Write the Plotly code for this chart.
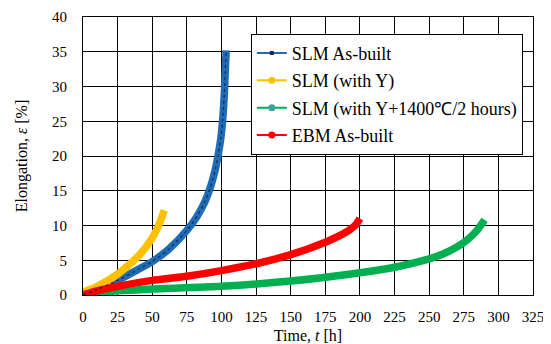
import plotly.graph_objects as go

# SLM As-built
t_slm = [0, 10, 25, 40, 50, 62, 75, 82, 88, 92, 95, 97.5, 99.5, 101, 102.2, 103.4]
e_slm = [0, 0.8, 2.1, 3.7, 4.8, 6.6, 9.3, 11.2, 13.4, 15.5, 17.6, 20.0, 22.5, 25.5, 29.5, 35.2]
# SLM (with Y)
t_y = [0, 10, 25, 40, 50, 55, 58.7]
e_y = [0.4, 1.2, 3.0, 5.6, 8.2, 10.2, 12.2]
# SLM (with Y+1400C/2 hours)
t_yh = [0, 10, 25, 50, 100, 150, 200, 225, 250, 260, 270, 278, 285, 290]
e_yh = [0, 0.4, 0.6, 0.85, 1.25, 2.0, 3.2, 4.0, 5.2, 5.9, 6.9, 8.0, 9.4, 10.8]
# EBM As-built
t_ebm = [0, 10, 25, 50, 75, 100, 125, 150, 175, 185, 192, 197, 200]
e_ebm = [0, 0.6, 1.25, 2.1, 2.7, 3.5, 4.5, 5.8, 7.6, 8.5, 9.3, 10.1, 11.0]

names = ["SLM As-built", "SLM (with Y)", "SLM (with Y+1400℃/2 hours)", "EBM As-built"]
colors = ["#1f6cb4", "#ffc000", "#00b050", "#ff0000"]
mcolors = ["#0a2a5e", "#ffc000", "#3aa0a0", "#ff0000"]
msym = ["square", "circle", "circle", "circle"]
series = [(t_slm, e_slm), (t_y, e_y), (t_yh, e_yh), (t_ebm, e_ebm)]

FONT = "Liberation Serif"

fig = go.Figure()
for (t, e), c in zip(series, colors):
    fig.add_trace(go.Scatter(x=t, y=e, mode="lines",
                             line=dict(color=c, width=7.5, shape="spline", smoothing=0.6),
                             showlegend=False, hoverinfo="skip"))
# dark core of SLM as-built
fig.add_trace(go.Scatter(x=t_slm, y=e_slm, mode="lines",
                         line=dict(color="#0a2a5e", width=1.2, shape="spline", smoothing=0.6, dash="dot"),
                         showlegend=False, hoverinfo="skip"))
for i, (n, c) in enumerate(zip(names, colors)):
    fig.add_trace(go.Scatter(x=[None], y=[None], mode="lines+markers", name=n,
                             line=dict(color=c, width=2),
                             marker=dict(color=mcolors[i], symbol=msym[i], size=7 if i else 4),
                             legendgroup=str(i)))

# page has an 8px body margin, so the figure is offset by 8px
fig.update_layout(
    width=543, height=336,
    margin=dict(l=75, r=18, t=9, b=49, autoexpand=False),
    paper_bgcolor="white", plot_bgcolor="white",
    font=dict(family=FONT, size=15, color="black"),
    showlegend=True,
    legend=dict(x=0.373, y=0.94, xanchor="left", yanchor="top",
                bordercolor="black", borderwidth=1, bgcolor="white",
                font=dict(size=18, family=FONT, color="black"), tracegroupgap=1),
)
fig.update_xaxes(range=[0, 325], dtick=25, tick0=0, showgrid=True, gridcolor="black", gridwidth=1,
                 showline=True, linecolor="black", linewidth=1, mirror=True, ticks="",
                 zeroline=False, automargin=False, ticklabelstandoff=8,
                 title=dict(text="Time, <i>t</i> [h]", standoff=12, font=dict(family=FONT, size=16)),
                 tickfont=dict(size=15, family=FONT, color="black"))
fig.update_yaxes(range=[0, 40], dtick=5, tick0=0, showgrid=True, gridcolor="black", gridwidth=1,
                 showline=True, linecolor="black", linewidth=1, mirror=True, ticks="",
                 zeroline=False, automargin=False, ticklabelstandoff=12,
                 title=dict(text="Elongation, <i>ε</i> [%]", standoff=20, font=dict(family=FONT, size=16)),
                 tickfont=dict(size=15, family=FONT, color="black"))
fig.write_html("out.html")
